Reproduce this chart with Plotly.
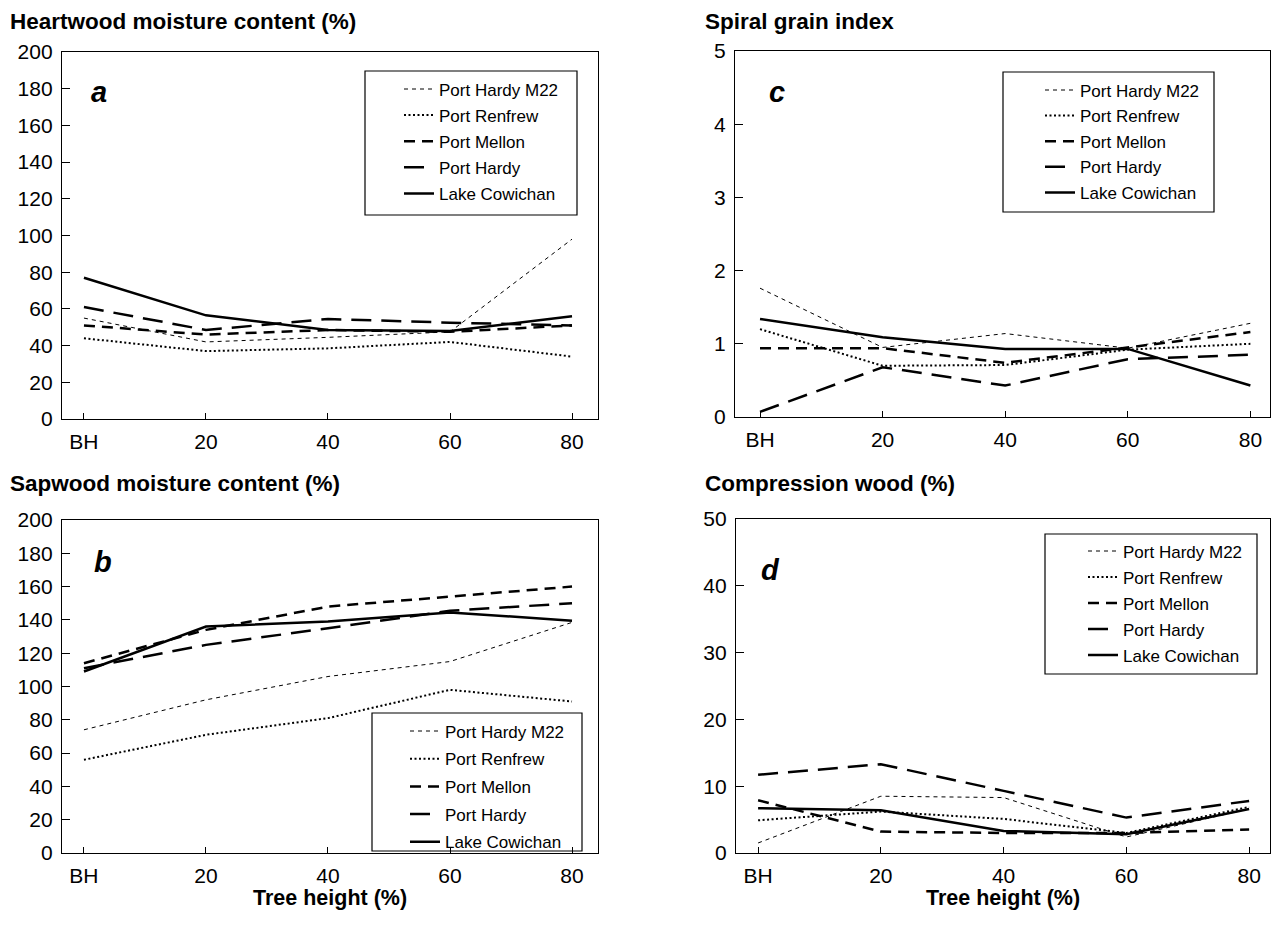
import plotly.graph_objects as go

# ---------------- data ----------------
x_labels = ["BH", "20", "40", "60", "80"]
series_names = ["Port Hardy M22", "Port Renfrew", "Port Mellon", "Port Hardy", "Lake Cowichan"]

heartwood_m22 = [55, 42, 44.5, 47.5, 98]
heartwood_renfrew = [44, 37, 38.5, 42, 34]
heartwood_mellon = [51, 46, 48.5, 47.5, 51]
heartwood_hardy = [61, 48.5, 54.5, 52.5, 51]
heartwood_cowichan = [77, 56.5, 48.5, 48, 56]

sapwood_m22 = [74, 92, 106, 115, 138.5]
sapwood_renfrew = [56, 71, 81, 98, 91]
sapwood_mellon = [114, 134, 148, 154, 160]
sapwood_hardy = [111, 125, 135, 145.5, 150]
sapwood_cowichan = [109, 136, 139, 144.5, 139.5]

spiral_m22 = [1.76, 0.95, 1.14, 0.94, 1.28]
spiral_renfrew = [1.2, 0.7, 0.71, 0.92, 1.0]
spiral_mellon = [0.94, 0.94, 0.74, 0.95, 1.16]
spiral_hardy = [0.07, 0.68, 0.43, 0.79, 0.85]
spiral_cowichan = [1.34, 1.09, 0.93, 0.93, 0.43]

compression_m22 = [1.5, 8.5, 8.3, 2.4, 6.6]
compression_renfrew = [4.9, 6.2, 5.1, 3.0, 6.9]
compression_mellon = [7.9, 3.2, 3.0, 3.0, 3.5]
compression_hardy = [11.7, 13.3, 9.3, 5.3, 7.8]
compression_cowichan = [6.7, 6.4, 3.3, 2.8, 6.6]

panel_titles = ["Heartwood moisture content (%)", "Sapwood moisture content (%)",
                "Spiral grain index", "Compression wood (%)"]
panel_letters = ["a", "b", "c", "d"]
x_title = "Tree height (%)"

# ---------------- styling ----------------
W, H = 1271, 925
FONT = "Liberation Sans, Arial, sans-serif"
LEG_FONT = 17

line_styles = {
    "Port Hardy M22": dict(color="black", width=1, dash="4px,4px"),
    "Port Renfrew": dict(color="black", width=2, dash="2px,2.5px"),
    "Port Mellon": dict(color="black", width=2.5, dash="11px,7px"),
    "Port Hardy": dict(color="black", width=2.5, dash="20px,10px"),
    "Lake Cowichan": dict(color="black", width=2.5, dash="solid"),
}


def px_x(v):
    return v / W


def px_y(v):
    return 1 - v / H


panels = [
    dict(series=[heartwood_m22, heartwood_renfrew, heartwood_mellon, heartwood_hardy, heartwood_cowichan],
         ax="", xd=(62, 598), yd=(52, 419), xr=[-0.18, 4.213], yr=[0, 200], dt=20,
         leg="legend", legbox=(365, 71, 577, 215), legtext=(439, 89), gap=1),
    dict(series=[sapwood_m22, sapwood_renfrew, sapwood_mellon, sapwood_hardy, sapwood_cowichan],
         ax="2", xd=(62, 598), yd=(520, 853), xr=[-0.18, 4.213], yr=[0, 200], dt=20,
         leg="legend2", legbox=(372, 713, 582, 851), legtext=(445, 731), gap=2.6),
    dict(series=[spiral_m22, spiral_renfrew, spiral_mellon, spiral_hardy, spiral_cowichan],
         ax="3", xd=(735, 1270), yd=(51, 417), xr=[-0.204, 4.16], yr=[0, 5], dt=1,
         leg="legend3", legbox=(1003, 72, 1214, 212), legtext=(1080, 90), gap=0.5),
    dict(series=[compression_m22, compression_renfrew, compression_mellon, compression_hardy, compression_cowichan],
         ax="4", xd=(736, 1270), yd=(519, 853), xr=[-0.18, 4.17], yr=[0, 50], dt=10,
         leg="legend4", legbox=(1045, 534, 1257, 674), legtext=(1123, 551), gap=0.9),
]

fig = go.Figure()
layout = dict(
    width=W, height=H,
    margin=dict(l=0, r=0, t=0, b=0),
    paper_bgcolor="white", plot_bgcolor="white",
    font=dict(family=FONT, color="black"),
    showlegend=True,
)
shapes = []
annotations = []

for pi, p in enumerate(panels):
    for si, name in enumerate(series_names):
        fig.add_trace(go.Scatter(
            x=x_labels, y=p["series"][si], mode="lines", name=name,
            line=line_styles[name],
            xaxis="x" + p["ax"], yaxis="y" + p["ax"],
            legend=p["leg"], legendgroup=f"{pi}-{si}",
            hoverinfo="skip",
        ))
    xk = "xaxis" + p["ax"]
    yk = "yaxis" + p["ax"]
    layout[xk] = dict(
        domain=[px_x(p["xd"][0]), px_x(p["xd"][1])],
        anchor="y" + p["ax"], type="category", range=p["xr"],
        showline=True, linecolor="black", linewidth=1.3, mirror=True,
        ticks="inside", ticklen=6, tickwidth=1.2, tickcolor="black",
        showgrid=False, zeroline=False, automargin=False,
        tickfont=dict(size=21, family=FONT, color="black"),
        ticklabelstandoff=4,
    )
    layout[yk] = dict(
        domain=[px_y(p["yd"][1]), px_y(p["yd"][0])],
        anchor="x" + p["ax"], range=p["yr"], dtick=p["dt"], tick0=0,
        showline=True, linecolor="black", linewidth=1.3, mirror=True,
        ticks="inside", ticklen=8, tickwidth=1.2, tickcolor="black",
        showgrid=False, zeroline=False, automargin=False,
        tickfont=dict(size=21, family=FONT, color="black"),
        ticklabelstandoff=4,
    )
    tx, ty = p["legtext"]
    item_h = LEG_FONT * 1.3 + 3
    layout[p["leg"]] = dict(
        x=px_x(tx - 40), y=px_y(ty - 5 - item_h / 2), xanchor="left", yanchor="top",
        bgcolor="rgba(0,0,0,0)", borderwidth=0,
        font=dict(size=LEG_FONT, family=FONT, color="black"),
        tracegroupgap=p["gap"],
    )
    bx0, by0, bx1, by1 = p["legbox"]
    shapes.append(dict(type="rect", xref="paper", yref="paper",
                       x0=px_x(bx0), x1=px_x(bx1), y0=px_y(by1), y1=px_y(by0),
                       line=dict(color="black", width=1.2)))

# panel titles
title_pos = [(8, 22), (8, 483), (703, 22), (703, 483)]
for (tx, ty), t in zip(title_pos, panel_titles):
    annotations.append(dict(text=t, xref="paper", yref="paper", x=px_x(tx), y=px_y(ty),
                            xanchor="left", yanchor="middle", showarrow=False,
                            font=dict(size=22.5, family=FONT, color="black", weight="bold")))

# panel letters
letter_pos = [(99, 92), (103, 562), (777, 92), (770, 570)]
for (lx, ly), t in zip(letter_pos, panel_letters):
    annotations.append(dict(text=f"<b><i>{t}</i></b>", xref="paper", yref="paper",
                            x=px_x(lx), y=px_y(ly), xanchor="center", yanchor="middle",
                            showarrow=False, font=dict(size=29, family=FONT, color="black")))

# x axis titles
for cx in (330, 1003):
    annotations.append(dict(text=x_title, xref="paper", yref="paper", x=px_x(cx), y=px_y(898),
                            xanchor="center", yanchor="middle", showarrow=False,
                            font=dict(size=21.5, family=FONT, color="black", weight="bold")))

layout["shapes"] = shapes
layout["annotations"] = annotations
fig.update_layout(**layout)

fig.write_html("out.html")
